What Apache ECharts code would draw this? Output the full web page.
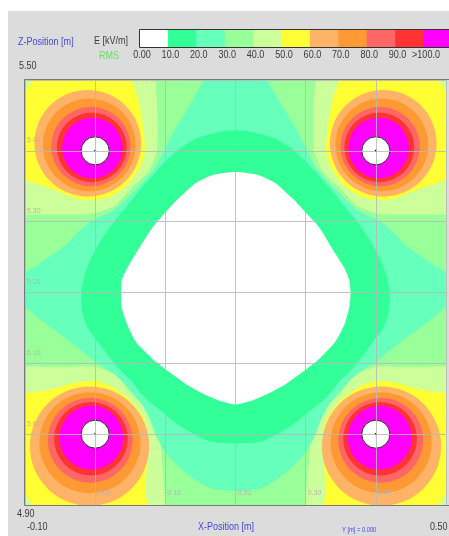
<!DOCTYPE html>
<html><head><meta charset="utf-8">
<script src="https://cdn.jsdelivr.net/npm/echarts@6/dist/echarts.min.js"></script>
<style>html,body{margin:0;padding:0;background:#fff;overflow:hidden}
#panel{position:absolute;left:8px;top:11px;width:441px;height:525px;background:#dcdcdc}
#chart{position:absolute;left:0;top:0;width:449px;height:536px}</style>
</head><body><div id="panel"></div><div id="chart"></div>
<script>
// ---------------- data ----------------
const levelLabels = ['0.00','10.0','20.0','30.0','40.0','50.0','60.0','70.0','80.0','90.0','>100.0'];
const levelColors = ['#ffffff','#33ff99','#66ffbb','#99ff99','#ccff99','#ffff33','#ffb366','#ff9933','#ff6666','#ff3333','#ff00ff'];
const xTickValues = [0.0, 0.1, 0.2, 0.3, 0.4];
const xTickLabels = ['0.00','0.10','0.20','0.30','0.40'];
const zTickValues = [5.0, 5.1, 5.2, 5.3, 5.4];
const zTickLabels = ['5.00','5.10','5.20','5.30','5.40'];
const xRange = [-0.10, 0.50];
const zRange = [4.90, 5.50];
const xRangeLabels = ['-0.10','0.50'];
const zRangeLabels = ['4.90','5.50'];

const conductorX = [0.00, 0.40, 0.00, 0.40];
const conductorZ = [5.40, 5.40, 5.00, 5.00];
const conductorRadius = 0.02;

// closed iso-rings around each conductor: radius and outward shift (horizontal, vertical) of ring centre (m)
const ringLevelIndex = [6, 7, 8, 9, 10];           // 60,70,80,90,>100 kV/m
const ringRadiusUpper  = [0.0760, 0.0661, 0.0565, 0.0497, 0.0431];
const ringShiftXUpper  = [0.0106, 0.0085, 0.0061, 0.0049, 0.0040];
const ringShiftZUpper  = [0.0106, 0.0085, 0.0061, 0.0049, 0.0040];
const ringRadiusLower  = [0.0850, 0.0720, 0.0605, 0.0525, 0.0455];
const ringShiftXLower  = [0.0080, 0.0075, 0.0070, 0.0060, 0.0055];
const ringShiftZLower  = [0.0170, 0.0120, 0.0085, 0.0065, 0.0050];

// 40 and 50 kV/m iso-lines around a conductor, as [inward dx, inward dz] offsets (m)
const band40Upper = [[0.086,-0.100],[0.088,-0.070],[0.089,-0.035],[0.088,0.000],[0.077,0.028],[0.052,0.052],[0.028,0.077],[0.000,0.088],[-0.035,0.090],[-0.070,0.090],[-0.100,0.090],[-0.140,0.080],[-0.150,-0.150],[0.080,-0.140]];
const band40Lower = [[0.100,-0.100],[0.098,-0.070],[0.095,-0.035],[0.092,0.000],[0.081,0.030],[0.054,0.054],[0.030,0.083],[0.000,0.095],[-0.035,0.095],[-0.070,0.095],[-0.100,0.095],[-0.140,0.085],[-0.150,-0.150],[0.095,-0.140]];
const band50Upper = [[0.052,-0.100],[0.056,-0.088],[0.062,-0.071],[0.068,-0.035],[0.071,0.000],[0.064,0.023],[0.047,0.047],[0.023,0.064],[0.000,0.069],[-0.025,0.068],[-0.056,0.056],[-0.079,0.048],[-0.100,0.041],[-0.125,0.032],[-0.130,-0.070],[-0.100,-0.083],[-0.095,-0.092],[-0.089,-0.100],[-0.075,-0.125],[0.040,-0.120]];
const band50Lower = [[0.075,-0.100],[0.072,-0.088],[0.072,-0.071],[0.074,-0.036],[0.075,0.000],[0.068,0.025],[0.049,0.049],[0.024,0.067],[0.000,0.075],[-0.027,0.073],[-0.058,0.064],[-0.080,0.060],[-0.100,0.058],[-0.125,0.050],[-0.130,-0.070],[-0.100,-0.083],[-0.095,-0.092],[-0.089,-0.100],[-0.075,-0.125],[0.060,-0.120]];

// low-field iso-lines in the middle of the bundle (x, z in m)
const contour30 = [[0.151,5.520],[0.154,5.500],[0.143,5.479],[0.126,5.451],[0.110,5.424],[0.098,5.400],[0.086,5.377],[0.071,5.359],[0.056,5.344],[0.041,5.329],[0.023,5.314],[0.000,5.304],[-0.022,5.288],[-0.039,5.270],[-0.062,5.253],[-0.082,5.239],[-0.100,5.229],[-0.121,5.218],
 [-0.121,5.186],[-0.100,5.179],[-0.072,5.157],[-0.039,5.133],[-0.017,5.116],[0.000,5.102],[0.023,5.088],[0.041,5.072],[0.055,5.057],[0.068,5.040],[0.078,5.021],[0.086,5.000],[0.098,4.977],[0.119,4.954],[0.143,4.935],[0.166,4.923],[0.200,4.920],
 [0.234,4.923],[0.257,4.935],[0.281,4.954],[0.302,4.977],[0.314,5.000],[0.322,5.021],[0.332,5.040],[0.345,5.057],[0.359,5.072],[0.377,5.088],[0.400,5.102],[0.417,5.116],[0.439,5.133],[0.472,5.157],[0.500,5.179],[0.521,5.186],
 [0.521,5.218],[0.500,5.229],[0.482,5.239],[0.462,5.253],[0.439,5.270],[0.422,5.288],[0.400,5.304],[0.377,5.314],[0.359,5.329],[0.344,5.344],[0.329,5.359],[0.314,5.377],[0.302,5.400],[0.290,5.424],[0.274,5.451],[0.257,5.479],[0.246,5.500],[0.249,5.520]];
const contour20 = [[0.200,5.429],[0.183,5.428],[0.166,5.424],[0.143,5.417],[0.120,5.403],[0.102,5.387],[0.088,5.372],[0.067,5.349],[0.053,5.332],[0.040,5.316],[0.023,5.295],[0.006,5.270],[-0.007,5.246],[-0.015,5.225],[-0.020,5.199],
 [-0.018,5.171],[-0.011,5.151],[-0.001,5.137],[0.012,5.120],[0.023,5.105],[0.037,5.089],[0.051,5.076],[0.064,5.059],[0.077,5.046],[0.095,5.032],[0.119,5.013],[0.143,4.999],[0.166,4.989],[0.200,4.987],
 [0.234,4.989],[0.257,4.999],[0.281,5.013],[0.305,5.032],[0.323,5.046],[0.336,5.059],[0.349,5.076],[0.363,5.089],[0.377,5.105],[0.388,5.120],[0.401,5.137],[0.411,5.151],[0.418,5.171],
 [0.420,5.199],[0.415,5.225],[0.407,5.246],[0.394,5.270],[0.377,5.295],[0.360,5.316],[0.347,5.332],[0.333,5.349],[0.312,5.372],[0.298,5.387],[0.280,5.403],[0.257,5.417],[0.234,5.424],[0.217,5.428]];
const contour10 = [[0.200,5.370],[0.232,5.366],[0.256,5.355],[0.281,5.333],[0.301,5.312],[0.320,5.291],[0.339,5.260],[0.355,5.235],[0.362,5.218],[0.364,5.199],[0.362,5.178],[0.355,5.154],[0.342,5.130],[0.320,5.107],[0.296,5.088],[0.272,5.071],[0.246,5.057],[0.225,5.048],[0.200,5.042],
 [0.175,5.048],[0.154,5.057],[0.129,5.071],[0.105,5.088],[0.081,5.107],[0.058,5.130],[0.046,5.154],[0.038,5.178],[0.037,5.199],[0.038,5.218],[0.046,5.235],[0.061,5.260],[0.081,5.291],[0.099,5.312],[0.119,5.333],[0.144,5.355],[0.168,5.366]];

// ---------------- build shapes ----------------
const FONT = "'Liberation Sans',Arial,sans-serif";
const NARROW = 0.82;
const midX = (Math.min(...conductorX) + Math.max(...conductorX)) / 2;
const midZ = (Math.min(...conductorZ) + Math.max(...conductorZ)) / 2;
const shapes = [];
function inward(i){ return {sx: conductorX[i] < midX ? 1 : -1, sz: conductorZ[i] > midZ ? -1 : 1, upper: conductorZ[i] > midZ}; }
function addBand(upperPts, lowerPts, color){
  for (let i = 0; i < conductorX.length; i++){
    const d = inward(i); const loc = d.upper ? upperPts : lowerPts;
    shapes.push({kind:'poly', color, smooth:0.2, pts: loc.map(p => [conductorX[i] + d.sx*p[0], conductorZ[i] + d.sz*p[1]]), anchor:[conductorX[i], conductorZ[i]]});
  }
}
addBand(band40Upper, band40Lower, levelColors[4]);
addBand(band50Upper, band50Lower, levelColors[5]);
shapes.push({kind:'poly', color: levelColors[2], smooth:0.2, pts: contour30, anchor:[midX, midZ]});
shapes.push({kind:'poly', color: levelColors[1], smooth:0.2, pts: contour20, anchor:[midX, midZ]});
shapes.push({kind:'poly', color: levelColors[0], smooth:0.2, pts: contour10, anchor:[midX, midZ]});
for (let k = 0; k < ringLevelIndex.length; k++){
  for (let i = 0; i < conductorX.length; i++){
    const d = inward(i);
    const r = d.upper ? ringRadiusUpper[k] : ringRadiusLower[k];
    const sx = d.upper ? ringShiftXUpper[k] : ringShiftXLower[k];
    const sz = d.upper ? ringShiftZUpper[k] : ringShiftZLower[k];
    shapes.push({kind:'circle', color: levelColors[ringLevelIndex[k]], c:[conductorX[i] - d.sx*sx, conductorZ[i] - d.sz*sz], r, anchor:[conductorX[i], conductorZ[i]]});
  }
}
for (let i = 0; i < conductorX.length; i++){
  shapes.push({kind:'conductor', c:[conductorX[i], conductorZ[i]], r: conductorRadius, anchor:[conductorX[i], conductorZ[i]]});
}

function renderItem(params, api){
  const s = shapes[params.dataIndex];
  const cs = params.coordSys;
  const clip = {type:'rect', shape:{x:cs.x, y:cs.y, width:cs.width, height:cs.height}};
  if (s.kind === 'poly'){
    return {type:'polygon', shape:{points: s.pts.map(p => api.coord(p)), smooth:s.smooth}, style:{fill:s.color}, clipPath: clip};
  }
  const c = api.coord(s.c); const rp = api.size([s.r, s.r])[0];
  if (s.kind === 'circle'){
    return {type:'circle', shape:{cx:c[0], cy:c[1], r:rp}, style:{fill:s.color}, clipPath: clip};
  }
  return {type:'group', children:[
    {type:'circle', shape:{cx:c[0], cy:c[1], r:rp}, style:{fill:'#ffffff', stroke:'#333', lineWidth:1}},
    {type:'circle', shape:{cx:c[0], cy:c[1], r:1.1}, style:{fill:'#000'}}
  ]};
}

function tickFmt(vals, labels){
  return v => { for (let i = 0; i < vals.length; i++) if (Math.abs(v - vals[i]) < 1e-6) return labels[i]; return ''; };
}

// ---------------- legend / frame graphics ----------------
const graphics = [];
const barX = 139.5, barY = 29.5, cellW = 28.4, cellH = 18;
const txt = (t, x, y, col, size, align) => ({type:'text', x, y, scaleX:NARROW, style:{text:t, fill:col, font:(size||11) + 'px ' + FONT, textAlign:align||'left', textVerticalAlign:'middle'}, z:50});
levelColors.forEach((col, i) => {
  graphics.push({type:'rect', shape:{x:barX + i*cellW, y:barY, width:cellW + 0.5, height:cellH}, style:{fill:col}, z:50});
  graphics.push(txt(levelLabels[i], barX + i*cellW + 2.5, 55, '#3a3a3a', 11, 'center'));
});
graphics.push({type:'rect', shape:{x:barX, y:barY, width:cellW*levelColors.length, height:cellH}, style:{fill:null, stroke:'#333', lineWidth:1}, z:51});
const BLUE = '#4646dc';
graphics.push(txt('Z-Position [m]', 18, 42, BLUE));
graphics.push(txt('E [kV/m]', 94, 41, '#3a3a3a'));
graphics.push(txt('RMS', 99, 55.5, '#66dd66'));
graphics.push(txt(zRangeLabels[1], 19, 66, '#3a3a3a'));
graphics.push(txt(zRangeLabels[0], 17, 513.5, '#3a3a3a'));
graphics.push(txt(xRangeLabels[0], 27, 526.5, '#3a3a3a'));
graphics.push(txt(xRangeLabels[1], 430, 526.5, '#3a3a3a'));
graphics.push(txt('X-Position [m]', 226, 526.5, BLUE, 11, 'center'));
graphics.push(txt('Y [m] = 0.000', 342, 530.5, BLUE, 7));
graphics.push({type:'rect', shape:{x:24.5, y:79.5, width:426, height:426}, style:{fill:null, stroke:'#7a7a7a', lineWidth:1}, z:60});

const chart = echarts.init(document.getElementById('chart'), null, {renderer:'canvas'});
chart.setOption({
  animation:false,
  backgroundColor:'transparent',
  grid:{left:25, top:80, width:425, height:425, show:true, backgroundColor:levelColors[3], borderWidth:0},
  xAxis:{type:'value', min:xRange[0], max:xRange[1], interval:0.1, z:10,
    axisLine:{show:false}, axisTick:{show:false},
    splitLine:{show:true, lineStyle:{color:'rgba(185,185,185,0.85)', width:1}},
    axisLabel:{inside:true, margin:8, align:'left', padding:[0,0,0,2], color:'#b4b4b4', fontSize:7, fontFamily:FONT, formatter: tickFmt(xTickValues, xTickLabels)}},
  yAxis:{type:'value', min:zRange[0], max:zRange[1], interval:0.1, z:10,
    axisLine:{show:false}, axisTick:{show:false},
    splitLine:{show:true, lineStyle:{color:'rgba(185,185,185,0.85)', width:1}},
    axisLabel:{inside:true, margin:2, verticalAlign:'bottom', padding:[0,0,7,0], color:'#b4b4b4', fontSize:7, fontFamily:FONT, formatter: tickFmt(zTickValues, zTickLabels)}},
  graphic: graphics,
  series:[{type:'custom', renderItem, clip:true, z:2, data: shapes.map(s => s.anchor)}]
});
</script></body></html>
